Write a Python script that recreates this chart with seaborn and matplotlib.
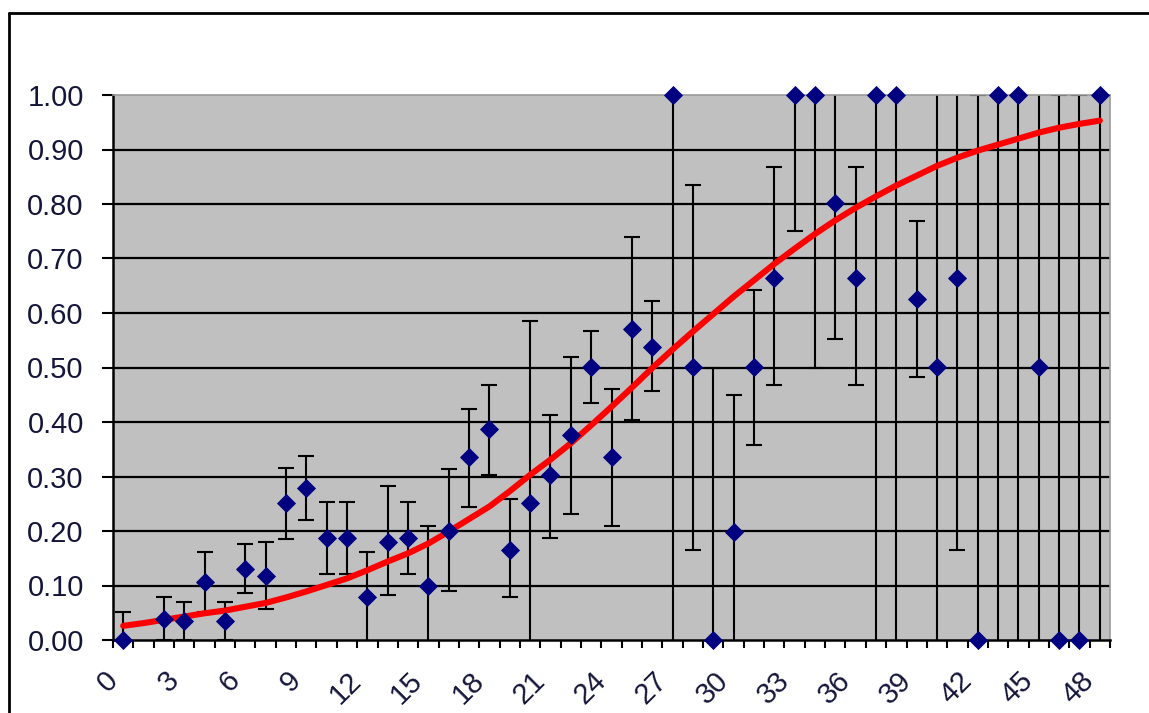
import numpy as np
import pandas as pd
import matplotlib
matplotlib.use("Agg")
import matplotlib.pyplot as plt
from matplotlib.lines import Line2D
from matplotlib.ticker import FixedLocator, FormatStrFormatter
import seaborn as sns

# category positions 0..48 (no observation at 1)
categories = list(range(49))
values = [0.000, np.nan, 0.038, 0.034, 0.107, 0.034, 0.130, 0.118, 0.251, 0.279,
          0.188, 0.188, 0.078, 0.180, 0.188, 0.100, 0.200, 0.335, 0.387, 0.166,
          0.251, 0.302, 0.376, 0.501, 0.335, 0.571, 0.538, 1.000, 0.501, 0.000,
          0.199, 0.501, 0.665, 1.000, 1.000, 0.802, 0.665, 1.000, 1.000, 0.625,
          0.501, 0.665, 0.000, 1.000, 1.000, 0.501, 0.000, 0.000, 1.000]
lower = [0.000, np.nan, 0.000, 0.000, 0.052, 0.000, 0.086, 0.056, 0.185, 0.221,
         0.122, 0.122, -0.006, 0.082, 0.122, -0.050, 0.090, 0.244, 0.303, 0.078,
         -0.050, 0.188, 0.232, 0.435, 0.210, 0.404, 0.456, -0.050, 0.166, 0.000,
         -0.050, 0.357, 0.468, 0.750, 0.500, 0.552, 0.468, -0.050, -0.050, 0.483,
         -0.050, 0.166, 0.000, -0.050, -0.050, -0.050, 0.000, 0.000, -0.050]
upper = [0.052, np.nan, 0.078, 0.070, 0.162, 0.070, 0.177, 0.180, 0.316, 0.338,
         0.254, 0.254, 0.162, 0.283, 0.254, 0.210, 0.314, 0.423, 0.467, 0.258,
         0.585, 0.412, 0.519, 0.567, 0.460, 0.739, 0.622, 1.000, 0.835, 0.500,
         0.450, 0.643, 0.867, 1.000, 1.000, 1.050, 0.867, 1.000, 1.000, 0.768,
         1.050, 1.050, 1.000, 1.000, 1.000, 1.050, 1.000, 1.000, 1.000]
# red fitted curve at each category
curve = [0.026, 0.031, 0.037, 0.043, 0.049, 0.054, 0.061, 0.068, 0.078, 0.089,
         0.101, 0.113, 0.128, 0.144, 0.159, 0.177, 0.199, 0.222, 0.245, 0.273,
         0.303, 0.331, 0.361, 0.394, 0.428, 0.463, 0.499, 0.533, 0.566, 0.598,
         0.630, 0.660, 0.690, 0.718, 0.745, 0.770, 0.793, 0.814, 0.834, 0.852,
         0.870, 0.885, 0.898, 0.909, 0.920, 0.931, 0.940, 0.947, 0.953]
tick_pos = list(range(0, 49, 3))
tick_labels = [str(t) for t in tick_pos]

df = pd.DataFrame({"x": categories, "y": values, "lo": lower, "hi": upper, "fit": curve})
pts = df.dropna()

sns.set_style("white")
plt.rcParams["font.family"] = ["Liberation Sans", "DejaVu Sans"]

fig = plt.figure(figsize=(11.49, 7.13), dpi=100)
ax = fig.add_axes([113 / 1149, 73 / 713, 997 / 1149, 545 / 713])
ax.set_facecolor("#c0c0c0")

for g in np.arange(0.1, 0.95, 0.1):
    ax.axhline(g, color="black", lw=1.6, zorder=1)

ax.errorbar(pts["x"], pts["y"], yerr=[pts["y"] - pts["lo"], pts["hi"] - pts["y"]],
            fmt="none", ecolor="black", elinewidth=1.5, capsize=5.5, capthick=1.5, zorder=2)
sns.lineplot(data=df, x="x", y="fit", color="#ff0000", lw=4.4, ax=ax, zorder=3)
sns.scatterplot(data=pts, x="x", y="y", marker="D", s=95, color="#000080",
                edgecolor="#000080", linewidth=0, ax=ax, zorder=4, clip_on=False)

ax.set_xlim(-0.5, 48.5)
ax.set_ylim(0, 1)
ax.set_xlabel("")
ax.set_ylabel("")

ax.yaxis.set_major_locator(FixedLocator(np.linspace(0, 1, 11)))
ax.yaxis.set_major_formatter(FormatStrFormatter("%.2f"))
ax.tick_params(axis="y", direction="out", length=8, width=1.5, color="black",
               pad=13, labelsize=21, labelcolor="#15153a", left=True)

ax.set_xticks(tick_pos)
ax.set_xticklabels(tick_labels, rotation=45, ha="right", va="top")
ax.set_xticks(np.arange(-0.5, 49, 1), minor=True)
ax.tick_params(axis="x", which="major", length=0, pad=19, labelsize=21, labelcolor="#15153a")
ax.tick_params(axis="x", which="minor", direction="out", length=6, width=1.5,
               color="black", bottom=True)

for side in ("left", "bottom"):
    ax.spines[side].set_color("black")
    ax.spines[side].set_linewidth(1.8)
for side in ("top", "right"):
    ax.spines[side].set_color("#9a9a9a")
    ax.spines[side].set_linewidth(1.2)

# chart area border (left and top edges visible in the frame)
fig.add_artist(Line2D([9 / 1149, 9 / 1149], [0, 1 - 13 / 713], color="black", lw=2))
fig.add_artist(Line2D([9 / 1149, 1], [1 - 13 / 713, 1 - 13 / 713], color="black", lw=2))

fig.savefig("out.png", dpi=100, facecolor="white")
